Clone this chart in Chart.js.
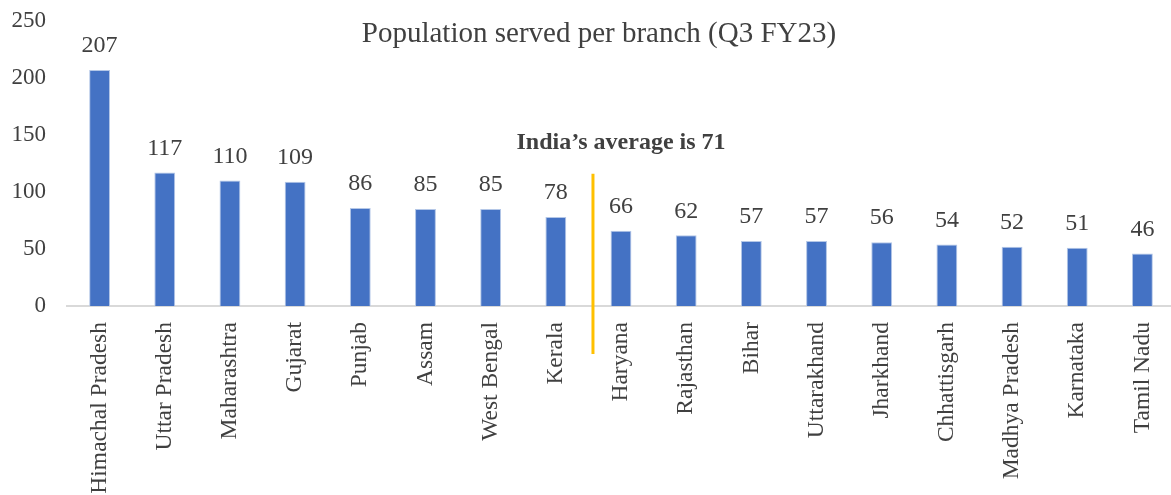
<!DOCTYPE html>
<html>
<head>
<meta charset="utf-8">
<script src="https://cdn.jsdelivr.net/npm/chart.js@4.4.1/dist/chart.umd.min.js"></script>
<style>
	html, body { margin: 0; padding: 0; background: #fff; overflow: hidden; }
	#wrap { width: 1171px; height: 495px; overflow: hidden; }
</style>
</head>
<body>
<div id="wrap"><canvas id="branchChart" width="1175" height="495"></canvas></div>
<script>
const states = ['Himachal Pradesh', 'Uttar Pradesh', 'Maharashtra', 'Gujarat', 'Punjab', 'Assam', 'West Bengal', 'Kerala',
	'Haryana', 'Rajasthan', 'Bihar', 'Uttarakhand', 'Jharkhand', 'Chhattisgarh', 'Madhya Pradesh', 'Karnataka', 'Tamil Nadu']
const population = [207, 117, 110, 109, 86, 85, 85, 78, 66, 62, 57, 57, 56, 54, 52, 51, 46]
const yTicks = [0, 50, 100, 150, 200, 250]
const chartTitle = 'Population served per branch (Q3 FY23)'
const averageNote = 'India\u2019s average is 71'

const serif = "'Liberation Serif', 'Times New Roman', serif"
const textColor = '#404040'

// title, value labels and the average marker are drawn on the canvas
const extras = {
	id: 'extras',
	afterDatasetsDraw(chart) {
		const { ctx, chartArea, scales } = chart
		ctx.save()
		ctx.fillStyle = textColor
		ctx.textAlign = 'center'

		ctx.font = `29px ${serif}`
		ctx.textBaseline = 'middle'
		ctx.fillText(chartTitle, 599, 34)

		ctx.textBaseline = 'bottom'
		ctx.font = `24px ${serif}`
		chart.getDatasetMeta(0).data.forEach((bar, i) => {
			ctx.fillText(population[i], bar.x, bar.y - 12)
		})

		// line between Kerala and Haryana
		const x = scales.x.getPixelForValue(7.57)
		ctx.strokeStyle = '#FFC000'
		ctx.lineWidth = 3
		ctx.beginPath()
		ctx.moveTo(x, scales.y.getPixelForValue(116))
		ctx.lineTo(x, chartArea.bottom + 48)
		ctx.stroke()

		ctx.font = `bold 24px ${serif}`
		ctx.textBaseline = 'middle'
		ctx.fillText(averageNote, 621, 143)
		ctx.restore()
	},
}

const ctx = document.getElementById('branchChart').getContext('2d')
const myChart = new Chart(ctx, {
	type: 'bar',
	data: {
		labels: states,
		datasets: [
			{
				label: 'Population served per branch',
				data: population,
				backgroundColor: '#4472C4',
				borderColor: '#B4C7E7',
				borderWidth: 1,
				borderSkipped: 'bottom',
				barPercentage: 0.64,
				categoryPercentage: 0.5,
			},
		],
	},
	options: {
		responsive: false,
		animation: false,
		layout: {
			padding: { top: 21, right: 0, bottom: 0, left: 0 },
		},
		plugins: {
			legend: { display: false },
			title: { display: false },
			tooltip: { enabled: false },
		},
		scales: {
			x: {
				afterFit: scale => {
					scale.height = 189
					scale.paddingLeft = 0
					scale.paddingRight = 0
				},
				grid: { display: false, drawTicks: false },
				border: { display: true, color: '#D9D9D9', width: 2 },
				ticks: {
					color: textColor,
					font: { family: serif, size: 23.5 },
					minRotation: 90,
					maxRotation: 90,
					autoSkip: false,
					padding: 16,
				},
			},
			y: {
				min: 0,
				max: 250,
				afterBuildTicks: scale => {
					scale.ticks = yTicks.map(v => ({ value: v }))
				},
				afterFit: scale => {
					scale.width = 67
					scale.paddingTop = 0
					scale.paddingBottom = 0
				},
				grid: { display: false, drawTicks: false },
				border: { display: false },
				ticks: {
					color: textColor,
					font: { family: serif, size: 23 },
					padding: 21,
				},
			},
		},
	},
	plugins: [extras],
})
</script>
</body>
</html>
